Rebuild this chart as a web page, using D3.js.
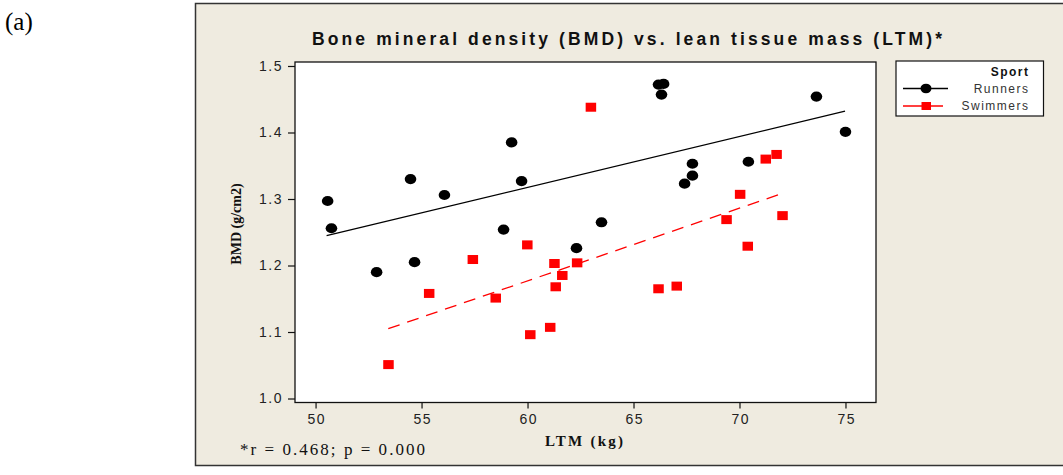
<!DOCTYPE html>
<html>
<head>
<meta charset="utf-8">
<script src="https://cdn.jsdelivr.net/npm/d3@7/dist/d3.min.js"></script>
<style>
  html, body { margin: 0; padding: 0; background: #ffffff; }
  svg { display: block; }
</style>
</head>
<body>
<svg id="chart" width="1063" height="475"></svg>
<script>
// ---------- data ----------
const runnersLTM = [50.57, 50.75, 52.88, 54.48, 54.67, 56.08, 58.87, 59.25, 59.72, 62.31,
                    63.49, 66.18, 66.42, 66.32, 67.41, 67.78, 67.78, 70.42, 73.63, 75.0];
const runnersBMD = [1.297, 1.256, 1.190, 1.330, 1.205, 1.306, 1.254, 1.385, 1.327, 1.226,
                    1.265, 1.472, 1.473, 1.457, 1.323, 1.335, 1.353, 1.356, 1.454, 1.401];
const swimmersLTM = [53.44, 55.36, 57.42, 58.50, 59.99, 60.13, 61.07, 61.27, 61.33, 61.64,
                     62.34, 62.99, 66.18, 67.04, 69.39, 70.03, 70.39, 71.24, 71.75, 72.03];
const swimmersBMD = [1.051, 1.158, 1.209, 1.151, 1.231, 1.096, 1.107, 1.203, 1.168, 1.185,
                     1.204, 1.438, 1.165, 1.169, 1.269, 1.307, 1.229, 1.360, 1.367, 1.275];
// fitted regression lines (end points)
const runnersFitLTM = [50.52, 74.98];
const runnersFitBMD = [1.245, 1.432];
const swimmersFitLTM = [53.43, 71.9];
const swimmersFitBMD = [1.105, 1.307];
const xTicks = [50, 55, 60, 65, 70, 75];
const yTicks = [1.0, 1.1, 1.2, 1.3, 1.4, 1.5];
const seriesNames = ["Runners", "Swimmers"];
const legendTitle = "Sport";
const titleText = "Bone mineral density (BMD) vs. lean tissue mass (LTM)*";
const xLabel = "LTM (kg)";
const yLabel = "BMD (g/cm2)";
const footnote = "*r = 0.468; p = 0.000";
const panelLabel = "(a)";

// ---------- layout ----------
const svg = d3.select("#chart");
const plot = { left: 295, right: 876, top: 62, bottom: 402.5 };

const x = d3.scaleLinear().domain([49.03, 76.44]).range([plot.left, plot.right]);
const y = d3.scaleLinear().domain([0.994, 1.506]).range([plot.bottom, plot.top]);

// panel label
svg.append("text")
  .attr("x", 5).attr("y", 30)
  .attr("font-family", "Liberation Serif, Times New Roman, serif")
  .attr("font-size", 25)
  .attr("fill", "#000")
  .text(panelLabel);

// beige panel
svg.append("rect")
  .attr("x", 195.5).attr("y", 3.5)
  .attr("width", 900).attr("height", 462)
  .attr("fill", "#EFEBE0")
  .attr("stroke", "#333")
  .attr("stroke-width", 1.5);

// plot frame
svg.append("rect")
  .attr("x", plot.left).attr("y", plot.top)
  .attr("width", plot.right - plot.left).attr("height", plot.bottom - plot.top)
  .attr("fill", "#ffffff")
  .attr("stroke", "#111")
  .attr("stroke-width", 1.3);

// title
svg.append("text")
  .attr("x", 627).attr("y", 45)
  .attr("text-anchor", "middle")
  .attr("font-family", "Liberation Sans, Arial, sans-serif")
  .attr("font-weight", "bold")
  .attr("font-size", 17.5)
  .attr("fill", "#111")
  .attr("textLength", 630)
  .attr("lengthAdjust", "spacing")
  .text(titleText);

// axes
const tickFont = "Liberation Sans, Arial, sans-serif";
const xAxis = svg.append("g")
  .attr("transform", `translate(0,${plot.bottom})`)
  .call(d3.axisBottom(x).tickValues(xTicks).tickSize(6).tickPadding(6).tickFormat(d3.format("d")));
const yAxis = svg.append("g")
  .attr("transform", `translate(${plot.left},0)`)
  .call(d3.axisLeft(y).tickValues(yTicks).tickSize(7).tickPadding(5).tickFormat(d3.format(".1f")));
[xAxis, yAxis].forEach(g => {
  g.select(".domain").remove();
  g.selectAll(".tick line").attr("stroke", "#111").attr("stroke-width", 1.2);
  g.selectAll(".tick text")
    .attr("font-family", tickFont)
    .attr("font-size", 14)
    .attr("fill", "#222")
    .style("letter-spacing", "1.5px");
});
xAxis.selectAll(".tick text").attr("dx", "0.75px");

// axis labels
svg.append("text")
  .attr("x", 584).attr("y", 446)
  .attr("text-anchor", "middle")
  .attr("font-family", "Liberation Serif, Times New Roman, serif")
  .attr("font-weight", "bold")
  .attr("font-size", 15)
  .attr("fill", "#111")
  .attr("textLength", 78)
  .attr("lengthAdjust", "spacing")
  .text(xLabel);

svg.append("text")
  .attr("transform", "translate(241,224) rotate(-90)")
  .attr("text-anchor", "middle")
  .attr("font-family", "Liberation Serif, Times New Roman, serif")
  .attr("font-weight", "bold")
  .attr("font-size", 14)
  .attr("fill", "#111")
  .text(yLabel);

// footnote
svg.append("text")
  .attr("x", 240).attr("y", 455)
  .attr("font-family", "Liberation Serif, Times New Roman, serif")
  .attr("font-size", 17)
  .attr("fill", "#111")
  .attr("textLength", 185)
  .attr("lengthAdjust", "spacing")
  .text(footnote);

// regression lines
const line = d3.line().x(d => x(d[0])).y(d => y(d[1]));
svg.append("path")
  .datum(d3.zip(runnersFitLTM, runnersFitBMD))
  .attr("d", line)
  .attr("fill", "none")
  .attr("stroke", "#000")
  .attr("stroke-width", 1.3);
svg.append("path")
  .datum(d3.zip(swimmersFitLTM, swimmersFitBMD))
  .attr("d", line)
  .attr("fill", "none")
  .attr("stroke", "#ff0000")
  .attr("stroke-width", 1.3)
  .attr("stroke-dasharray", "12,8");

// points
const sqW = 10.5, sqH = 9;
svg.append("g").selectAll("ellipse")
  .data(d3.zip(runnersLTM, runnersBMD))
  .join("ellipse")
  .attr("cx", d => x(d[0]))
  .attr("cy", d => y(d[1]))
  .attr("rx", 5.8).attr("ry", 5.1)
  .attr("fill", "#000");
svg.append("g").selectAll("rect")
  .data(d3.zip(swimmersLTM, swimmersBMD))
  .join("rect")
  .attr("x", d => x(d[0]) - sqW / 2)
  .attr("y", d => y(d[1]) - sqH / 2)
  .attr("width", sqW).attr("height", sqH)
  .attr("fill", "#ff0000");

// legend
const lg = svg.append("g");
lg.append("rect")
  .attr("x", 896).attr("y", 61)
  .attr("width", 147.5).attr("height", 55)
  .attr("fill", "#ffffff")
  .attr("stroke", "#111")
  .attr("stroke-width", 1.2);
lg.append("text")
  .attr("x", 1029.5).attr("y", 76)
  .attr("text-anchor", "end")
  .attr("font-family", tickFont)
  .attr("font-weight", "bold")
  .attr("font-size", 12)
  .attr("fill", "#111")
  .style("letter-spacing", "1.5px")
  .text(legendTitle);
const legendRows = [
  { name: seriesNames[0], color: "#000", y: 88.5, x2: 948, marker: "circle" },
  { name: seriesNames[1], color: "#ff0000", y: 106, x2: 943, marker: "square" }
];
legendRows.forEach(r => {
  lg.append("line")
    .attr("x1", 903).attr("x2", r.x2)
    .attr("y1", r.y).attr("y2", r.y)
    .attr("stroke", r.color).attr("stroke-width", 1.3);
  if (r.marker === "circle") {
    lg.append("ellipse").attr("cx", 926).attr("cy", r.y).attr("rx", 5.5).attr("ry", 4.8).attr("fill", r.color);
  } else {
    lg.append("rect").attr("x", 921.5).attr("y", r.y - 4).attr("width", 9.5).attr("height", 8).attr("fill", r.color);
  }
  lg.append("text")
    .attr("x", 1029.5).attr("y", r.y + 4.3)
    .attr("text-anchor", "end")
    .attr("font-family", tickFont)
    .attr("font-size", 12)
    .attr("fill", "#333")
    .style("letter-spacing", "1.5px")
    .text(r.name);
});
</script>
</body>
</html>
